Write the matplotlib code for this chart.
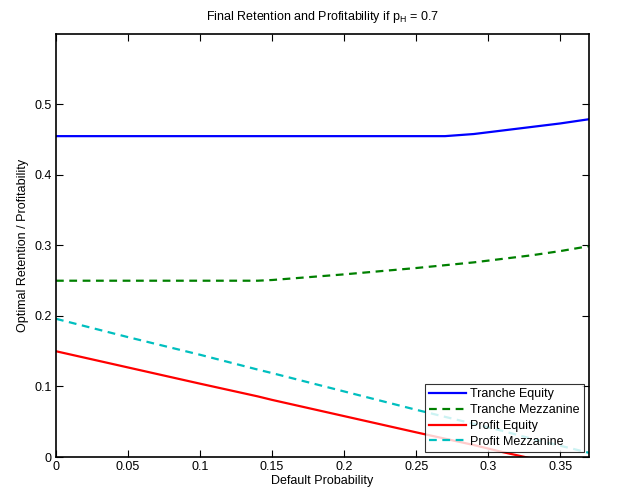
import numpy as np
import matplotlib
matplotlib.use('Agg')
import matplotlib.pyplot as plt

plt.rcParams['font.family'] = ['Liberation Sans', 'DejaVu Sans']
plt.rcParams['mathtext.fontset'] = 'custom'
plt.rcParams['mathtext.rm'] = 'Liberation Sans'
plt.rcParams['mathtext.it'] = 'Liberation Sans'

# default probability grid
default_prob = [0, 0.05, 0.1, 0.14, 0.15, 0.2, 0.25, 0.27, 0.29, 0.31, 0.33, 0.35, 0.37]

# values
tranche_equity = [0.455, 0.455, 0.455, 0.455, 0.455, 0.455, 0.455, 0.455, 0.458, 0.463, 0.468, 0.473, 0.479]
tranche_mezz = [0.25, 0.25, 0.25, 0.25, 0.251, 0.259, 0.268, 0.272, 0.276, 0.281, 0.286, 0.292, 0.299]
profit_equity = [0.15, 0.127, 0.104, 0.086, 0.081, 0.058, 0.035, 0.026, 0.017, 0.007, -0.002, -0.011, -0.020]
profit_mezz = [0.196, 0.170, 0.145, 0.124, 0.119, 0.093, 0.067, 0.057, 0.047, 0.037, 0.026, 0.016, 0.006]

fig = plt.figure(figsize=(6.24, 4.91), dpi=100)
ax = fig.add_axes([0.0897, 0.0692, 0.8543, 0.8618])

ax.plot(default_prob, tranche_equity, color='#0000ff', lw=1.6, label='Tranche Equity')
ax.plot(default_prob, tranche_mezz, color='#008000', lw=1.6, ls=(0, (3.5, 2.5)), label='Tranche Mezzanine')
ax.plot(default_prob, profit_equity, color='#ff0000', lw=1.6, label='Profit Equity')
ax.plot(default_prob, profit_mezz, color='#00bfbf', lw=1.6, ls=(0, (3.5, 2.5)), label='Profit Mezzanine')

ax.set_xlim(0, 0.37)
ax.set_ylim(0, 0.6)
ax.set_xticks([0, 0.05, 0.1, 0.15, 0.2, 0.25, 0.3, 0.35])
ax.set_xticklabels(['0', '0.05', '0.1', '0.15', '0.2', '0.25', '0.3', '0.35'])
ax.set_yticks([0, 0.1, 0.2, 0.3, 0.4, 0.5])
ax.set_yticklabels(['0', '0.1', '0.2', '0.3', '0.4', '0.5'])
ax.tick_params(direction='in', top=True, right=True, labelsize=9, length=5, width=0.8, pad=3)
for s in ax.spines.values():
    s.set_linewidth(1.2)

ax.set_xlabel('Default Probability', fontsize=9, labelpad=1)
ax.set_ylabel('Optimal Retention / Profitability', fontsize=9, labelpad=4)
ax.set_title('Final Retention and Profitability if $p_H$ = 0.7', fontsize=9, pad=10)

leg = ax.legend(loc='lower right', fontsize=9, frameon=True, fancybox=False,
                edgecolor='black', borderpad=0.35, labelspacing=0.3,
                handlelength=3.0, handletextpad=0.3, borderaxespad=0.4)
leg.get_frame().set_linewidth(0.8)

fig.savefig('out.png', dpi=100)
